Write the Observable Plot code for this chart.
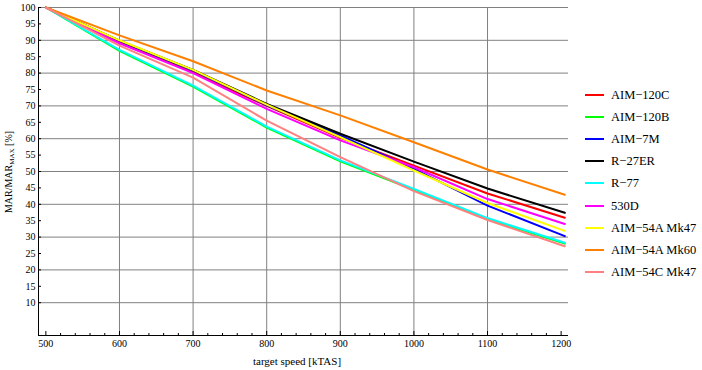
<!DOCTYPE html>
<html><head><meta charset="utf-8">
<script src="https://cdn.jsdelivr.net/npm/d3@7"></script>
<script src="https://cdn.jsdelivr.net/npm/@observablehq/plot@0.6"></script>
<style>
body{margin:0;background:#fff;}
#wrap{position:relative;width:702px;height:370px;font-family:"Liberation Serif","Times New Roman",serif;}
#legend{position:absolute;left:585px;top:0;}
.row{position:absolute;left:0;display:flex;align-items:center;white-space:nowrap;font-size:12.5px;line-height:16px;height:16px;font-family:"Liberation Serif","Times New Roman",serif;}
.sw{width:19px;height:2px;margin-right:7px;}
</style></head><body><div id="wrap"><div id="chart"></div><div id="legend"></div></div>
<script>
const speeds = [500, 600, 700, 800, 900, 1000, 1100, 1205];
const series = ["AIM−120C","AIM−120B","AIM−7M","R−27ER","R−77","530D","AIM−54A Mk47","AIM−54A Mk60","AIM−54C Mk47"];
const colors = ["#ff0000","#00ff00","#0000ff","#000000","#00ffff","#ff00ff","#ffff00","#ff8000","#ff8080"];
const aim120c   = [100, 89.6, 80.2, 70.0, 60.3, 51.8, 43.3, 35.9];
const aim120b   = [100, 86.8, 75.9, 63.4, 53.1, 44.4, 35.5, 28.0];
const aim7m     = [100, 89.8, 80.8, 70.2, 61.0, 50.8, 39.6, 30.3];
const r27er     = [100, 89.9, 81.0, 70.6, 61.5, 53.0, 44.8, 37.4];
const r77       = [100, 87.1, 76.2, 63.7, 53.4, 44.7, 35.8, 28.3];
const d530      = [100, 89.1, 80.0, 69.1, 59.5, 51.3, 41.6, 34.0];
const aim54aMk47= [100, 90.0, 81.0, 70.4, 60.5, 50.3, 40.4, 31.9];
const aim54aMk60= [100, 91.5, 83.6, 74.7, 67.1, 58.9, 50.6, 42.9];
const aim54cMk47= [100, 88.4, 78.6, 65.5, 54.4, 44.0, 35.2, 27.2];
const allValues = [aim120c, aim120b, aim7m, r27er, r77, d530, aim54aMk47, aim54aMk60, aim54cMk47];
const xTicks = [500, 600, 700, 800, 900, 1000, 1100, 1200];
const xMinor = d3.range(500, 1201, 20).filter(v => v % 100 !== 0);
const xGrid = [600, 700, 800, 900, 1000, 1100];
const yTicks = d3.range(10, 101, 5);
const yGrid = d3.range(10, 101, 10);

const rows = [];
series.forEach((s, i) => speeds.forEach((sp, j) => rows.push({series: s, speed: sp, value: allValues[i][j]})));

const chart = Plot.plot({
  width: 702, height: 370,
  marginLeft: 38, marginRight: 134, marginTop: 7, marginBottom: 35,
  style: {fontFamily: "Liberation Serif, Times New Roman, serif", fontSize: "10px", background: "white", color: "black"},
  x: {domain: [490, 1210]},
  y: {domain: [0, 100]},
  color: {domain: series, range: colors},
  marks: [
    Plot.gridX(xGrid, {stroke: "#808080", strokeOpacity: 1, strokeWidth: 1}),
    Plot.gridY(yGrid, {stroke: "#808080", strokeOpacity: 1, strokeWidth: 1}),
    Plot.line(rows, {x: "speed", y: "value", z: "series", stroke: "series", strokeWidth: 2}),
    Plot.ruleX([490], {stroke: "black"}),
    Plot.ruleY([0], {stroke: "black"}),
    Plot.axisX(xTicks, {tickSize: -4, tickPadding: 8, tickFormat: d3.format("d"), label: null}),
    Plot.axisX(xMinor, {tickSize: -2, text: null, label: null}),
    Plot.axisY(yTicks, {tickSize: -3, tickPadding: 6, tickFormat: d3.format("d"), label: null})
  ]
});
document.getElementById("chart").appendChild(chart);

const svg = d3.select(chart);
const yl = svg.append("text")
  .attr("transform", "translate(12,172) rotate(-90)")
  .attr("text-anchor", "middle")
  .attr("font-size", 10)
  .attr("fill", "black");
yl.append("tspan").text("MAR/MAR");
yl.append("tspan").attr("font-size", 7).attr("dy", 2).text("MAX");
yl.append("tspan").attr("dy", -2).text(" [%]");
svg.append("text")
  .attr("x", 297).attr("y", 365)
  .attr("text-anchor", "middle")
  .attr("font-size", 11)
  .attr("fill", "black")
  .text("target speed [kTAS]");

const legend = document.getElementById("legend");
series.forEach((s, i) => {
  const r = document.createElement("div");
  r.className = "row";
  r.style.top = (95 + i * 22.1 - 8) + "px";
  const sw = document.createElement("div");
  sw.className = "sw";
  sw.style.background = colors[i];
  const t = document.createElement("span");
  t.textContent = s;
  r.appendChild(sw); r.appendChild(t);
  legend.appendChild(r);
});
</script></body></html>
